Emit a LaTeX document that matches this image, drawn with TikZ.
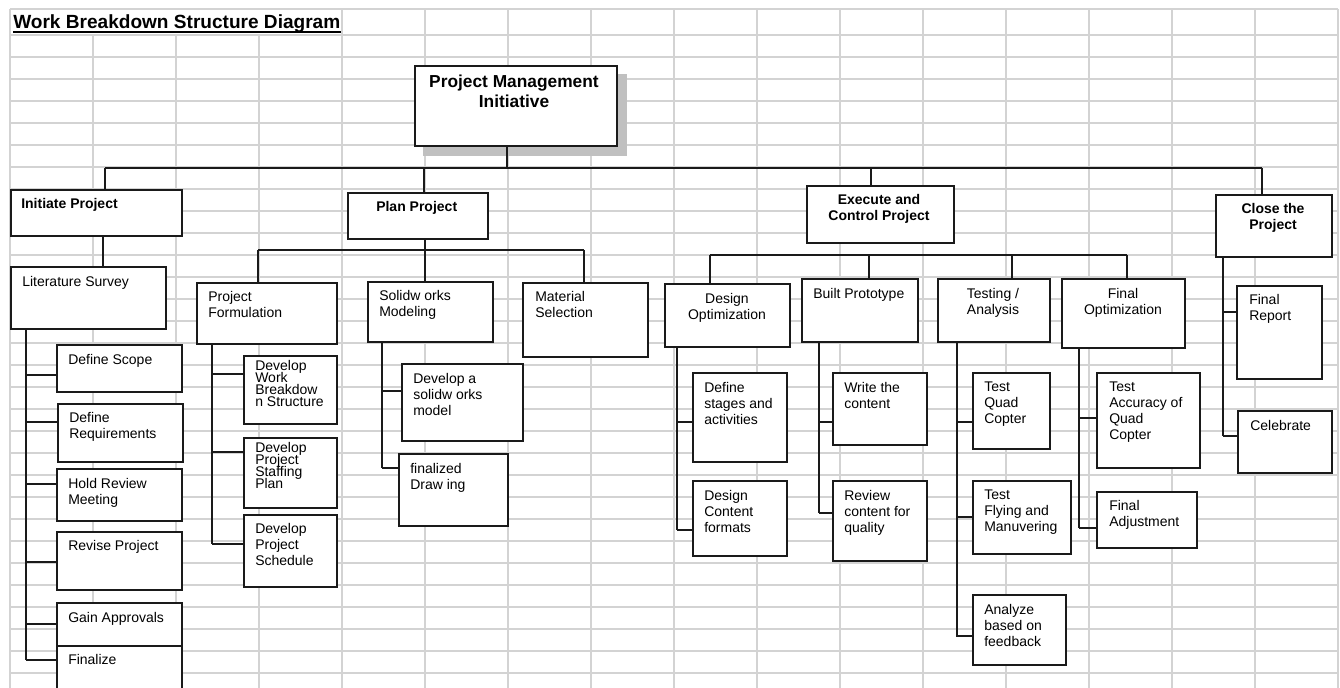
\documentclass[tikz,border=0pt]{standalone}
\usepackage{fontspec}
\setmainfont{Liberation Sans}
\usetikzlibrary{calc}
\definecolor{gridc}{HTML}{D3D3D3}
\definecolor{ink}{HTML}{1A1A1A}
\definecolor{shadowc}{HTML}{C0C0C0}
\newcommand\tightlns{\lineskiplimit=-100pt\relax\lineskip=0pt\relax}
\tikzset{
  gridline/.style={draw=gridc, line width=1.1pt},
  conn/.style={draw=ink, line width=1.2pt},
  box/.style={rectangle, draw=ink, fill=white, line width=1.2pt, anchor=north west, inner sep=0pt},
  txt/.style={anchor=north west, inner sep=0pt, align=left, text=black,
    font=\fontsize{10.5}{12}\selectfont},
  txttight/.style={txt, font=\fontsize{10.5}{9}\selectfont\tightlns},
  txtb/.style={txt, font=\bfseries\fontsize{10.5}{12}\selectfont},
  txtbc/.style={txtb, anchor=north, align=center},
  txtc/.style={txt, anchor=north, align=center},
}
\newcommand\wbbox[5]{\node[box, minimum width={(#4-#2)*0.75pt}, minimum height={(#5-#3)*0.75pt}] (#1) at (#2,#3) {};}
\begin{document}
\begin{tikzpicture}[x=0.75pt,y=-0.75pt]
\useasboundingbox (0,0) rectangle (1340,688);
\clip (0,0) rectangle (1340,688);
% grid
\foreach \i in {0,...,16} {\pgfmathsetmacro\xx{10+83*\i} \draw[gridline] (\xx,35) -- (\xx,690);}
\foreach \i in {0,4,5,...,16} {\pgfmathsetmacro\xx{10+83*\i} \draw[gridline] (\xx,9) -- (\xx,35);}
\draw[gridline] (10,9) -- (1338,9);
\foreach \i in {0,...,29} {\pgfmathsetmacro\yy{35+22*\i} \draw[gridline] (10,\yy) -- (1338,\yy);}
% title
\node[anchor=north west, inner sep=0pt, font=\bfseries\fontsize{14.3}{16}\selectfont] (title) at (13,14) {Work Breakdown Structure Diagram};
\draw[line width=1.1pt, black] ($(title.base west)+(0,4)$) -- ($(title.base east)+(0,4)$);
% shadow
\fill[shadowc] (423,74) rectangle (627,156);
% boxes
\wbbox{main}{414}{65}{616}{145}
\wbbox{init}{10}{189}{181}{235}
\wbbox{plan}{347}{192}{487}{238}
\wbbox{exec}{806}{185}{953}{242}
\wbbox{close}{1215}{194}{1331}{256}
\wbbox{lit}{10}{266}{165}{328}
\wbbox{ds}{56}{344}{181}{391}
\wbbox{dr}{57}{403}{182}{461}
\wbbox{hr}{56}{468}{181}{520}
\wbbox{rp}{56}{531}{181}{589}
\wbbox{ga}{56}{602}{181}{645}
\wbbox{fin}{56}{645}{181}{700}
\wbbox{pf}{196}{282}{336}{343}
\wbbox{dwbs}{243}{355}{336}{423}
\wbbox{dps}{243}{437}{336}{507}
\wbbox{dsch}{243}{514}{336}{586}
\wbbox{sm}{367}{281}{492}{341}
\wbbox{ms}{522}{282}{647}{356}
\wbbox{dsm}{401}{363}{522}{440}
\wbbox{fd}{398}{453}{507}{525}
\wbbox{dopt}{664}{283}{789}{346}
\wbbox{bp}{801}{278}{917}{341}
\wbbox{ta}{937}{278}{1049}{341}
\wbbox{fo}{1061}{278}{1184}{347}
\wbbox{dsa}{692}{372}{786}{461}
\wbbox{dcf}{692}{480}{786}{555}
\wbbox{wc}{832}{372}{926}{444}
\wbbox{rc}{832}{480}{926}{560}
\wbbox{tqc}{972}{372}{1049}{448}
\wbbox{tfm}{972}{480}{1070}{553}
\wbbox{abf}{972}{594}{1065}{664}
\wbbox{taq}{1096}{372}{1199}{467}
\wbbox{fa}{1096}{491}{1196}{547}
\wbbox{fr}{1236}{285}{1321}{378}
\wbbox{cel}{1237}{410}{1331}{472}
% top level connectors
\coordinate (dm) at (507,168);
\coordinate (d1) at (105,168);
\coordinate (d2) at (424,168);
\coordinate (d3) at (871,168);
\coordinate (d4) at (1262,168);
\draw[conn] (d1) -- (d4);
\draw[conn] (main.south -| dm) -- (dm);
\draw[conn] (d1) -- (init.north -| d1);
\draw[conn] (d2) -- (plan.north -| d2);
\draw[conn] (d3) -- (exec.north -| d3);
\draw[conn] (d4) -- (close.north -| d4);
% initiate
\coordinate (c1) at (103,250);
\draw[conn] (init.south -| c1) -- (lit.north -| c1);
\coordinate (s1) at (26,660);
\draw[conn] (lit.south -| s1) -- (s1);
\foreach \n/\y in {ds/375, dr/422, hr/484, rp/562, ga/624, fin/660}
  \draw[conn] (26,\y) -- (\n.west |- 0,\y);
% plan
\coordinate (p1) at (258,250);
\coordinate (p2) at (425,250);
\coordinate (p3) at (584,250);
\draw[conn] (plan.south -| p2) -- (p2);
\draw[conn] (p1) -- (p3);
\draw[conn] (p1) -- (pf.north -| p1);
\draw[conn] (p2) -- (sm.north -| p2);
\draw[conn] (p3) -- (ms.north -| p3);
\coordinate (s2) at (212,544);
\draw[conn] (pf.south -| s2) -- (s2);
\foreach \n/\y in {dwbs/374, dps/452, dsch/544}
  \draw[conn] (212,\y) -- (\n.west |- 0,\y);
\coordinate (s3) at (382,468);
\draw[conn] (sm.south -| s3) -- (s3);
\foreach \n/\y in {dsm/391, fd/468}
  \draw[conn] (382,\y) -- (\n.west |- 0,\y);
% execute
\coordinate (e1) at (710,255);
\coordinate (e2) at (869,255);
\coordinate (e3) at (1012,255);
\coordinate (e4) at (1127,255);
\draw[conn] (e1) -- (e4);
\draw[conn] (e1) -- (dopt.north -| e1);
\draw[conn] (e2) -- (bp.north -| e2);
\draw[conn] (e3) -- (ta.north -| e3);
\draw[conn] (e4) -- (fo.north -| e4);
\coordinate (s4) at (677,530);
\draw[conn] (dopt.south -| s4) -- (s4);
\foreach \n/\y in {dsa/422, dcf/530}
  \draw[conn] (677,\y) -- (\n.west |- 0,\y);
\coordinate (s5) at (819,513);
\draw[conn] (bp.south -| s5) -- (s5);
\foreach \n/\y in {wc/422, rc/513}
  \draw[conn] (819,\y) -- (\n.west |- 0,\y);
\coordinate (s6) at (957,637);
\draw[conn] (ta.south -| s6) -- (s6);
\foreach \n/\y in {tqc/422, tfm/517, abf/636}
  \draw[conn] (957,\y) -- (\n.west |- 0,\y);
\coordinate (s7) at (1079,528);
\draw[conn] (fo.south -| s7) -- (s7);
\foreach \n/\y in {taq/418, fa/528}
  \draw[conn] (1079,\y) -- (\n.west |- 0,\y);
% close
\coordinate (s8) at (1223,436);
\draw[conn] (close.south -| s8) -- (s8);
\foreach \n/\y in {fr/312, cel/436}
  \draw[conn] (1223,\y) -- (\n.west |- 0,\y);
% texts
\node[txtbc, font=\bfseries\fontsize{13}{15}\selectfont] (t-main) at (514,75) {Project Management\\Initiative};
\node[txtb] (t-init) at (21,198) {Initiate Project};
\node[txtb] (t-plan) at (376,201) {Plan Project};
\node[txtbc] (t-exec) at (879,194) {Execute and\\Control Project};
\node[txtbc] (t-close) at (1273,203) {Close the\\Project};
\node[txt] (t-lit) at (22,276) {Literature Survey};
\node[txt] (t-ds) at (68,354) {Define Scope};
\node[txt] (t-dr) at (69,412) {Define\\Requirements};
\node[txt] (t-hr) at (68,478) {Hold Review\\Meeting};
\node[txt] (t-rp) at (68,540) {Revise Project};
\node[txt] (t-ga) at (68,612) {Gain Approvals};
\node[txt] (t-fin) at (68,654) {Finalize};
\node[txt] (t-pf) at (208,291) {Project\\Formulation};
\node[txttight] (t-dwbs) at (255,360) {Develop\\Work\\Breakdow\\n Structure};
\node[txttight] (t-dps) at (255,442) {Develop\\Project\\Staffing\\Plan};
\node[txt] (t-dsch) at (255,523) {Develop\\Project\\Schedule};
\node[txt] (t-sm) at (379,290) {Solidw orks\\Modeling};
\node[txt] (t-ms) at (535,291) {Material\\Selection};
\node[txt] (t-dsm) at (413,373) {Develop a\\solidw orks\\model};
\node[txt] (t-fd) at (410,463) {finalized\\Draw ing};
\node[txtc] (t-dopt) at (727,293) {Design\\Optimization};
\node[txt] (t-bp) at (813,288) {Built Prototype};
\node[txtc] (t-ta) at (993,288) {Testing /\\Analysis};
\node[txtc] (t-fo) at (1123,288) {Final\\Optimization};
\node[txt] (t-dsa) at (704,382) {Define\\stages and\\activities};
\node[txt] (t-dcf) at (704,490) {Design\\Content\\formats};
\node[txt] (t-wc) at (844,382) {Write the\\content};
\node[txt] (t-rc) at (844,490) {Review\\content for\\quality};
\node[txt] (t-tqc) at (984,382) {Test\\Quad\\Copter};
\node[txt] (t-tfm) at (984,490) {Test\\Flying and\\Manuvering};
\node[txt] (t-abf) at (984,604) {Analyze\\based on\\feedback};
\node[txt] (t-taq) at (1109,382) {Test\\Accuracy of\\Quad\\Copter};
\node[txt] (t-fa) at (1109,500) {Final\\Adjustment};
\node[txt] (t-fr) at (1249,294) {Final\\Report};
\node[txt] (t-cel) at (1250,420) {Celebrate};
\end{tikzpicture}
\end{document}
